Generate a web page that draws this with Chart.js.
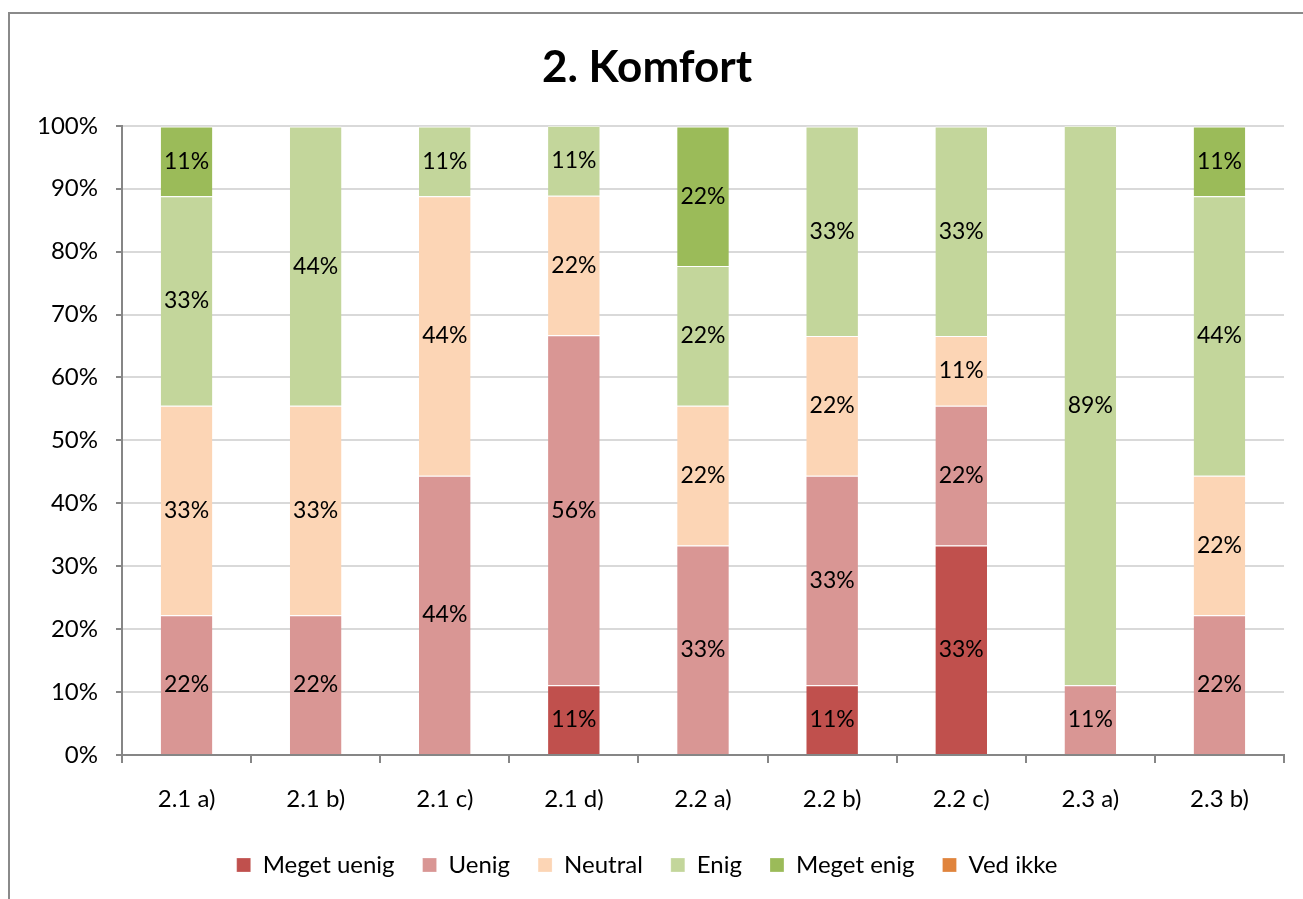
<!DOCTYPE html>
<html>
<head>
<meta charset="utf-8">
<script src="https://cdn.jsdelivr.net/npm/chart.js@4/dist/chart.umd.min.js"></script>
<style>
  html, body { margin: 0; padding: 0; background: #fff; overflow: hidden; }
  #frame { position: absolute; left: 8px; top: 12px; width: 1400px; height: 1000px;
           border: 2px solid #8a8a8a; box-sizing: border-box; }
  #wrap { position: absolute; left: 10px; top: 14px; width: 1306px; height: 885px; }
</style>
</head>
<body>
<div id="frame"></div>
<div id="wrap"><canvas id="chart"></canvas></div>
<script>
const categories = ["2.1 a)", "2.1 b)", "2.1 c)", "2.1 d)", "2.2 a)", "2.2 b)", "2.2 c)", "2.3 a)", "2.3 b)"];
const seriesNames = ["Meget uenig", "Uenig", "Neutral", "Enig", "Meget enig", "Ved ikke"];
const seriesColors = ["#c0504d", "#d99694", "#fcd5b5", "#c3d69b", "#9bbb59", "#e0843d"];

// percentages per category
const megetUenig = [0, 0, 0, 11.1, 0, 11.1, 33.3, 0, 0];
const uenig      = [22.2, 22.2, 44.4, 55.6, 33.3, 33.3, 22.2, 11.1, 22.2];
const neutral    = [33.3, 33.3, 44.4, 22.2, 22.2, 22.2, 11.1, 0, 22.2];
const enig       = [33.3, 44.4, 11.1, 11.1, 22.2, 33.3, 33.3, 88.9, 44.4];
const megetEnig  = [11.1, 0, 0, 0, 22.2, 0, 0, 0, 11.1];
const vedIkke    = [0, 0, 0, 0, 0, 0, 0, 0, 0];

const yTicks = [0, 10, 20, 30, 40, 50, 60, 70, 80, 90, 100];

const FONT = "Lato, 'Open Sans', sans-serif";

const barLabels = {
  id: "barLabels",
  afterDatasetsDraw(chart) {
    const ctx = chart.ctx;
    ctx.save();
    ctx.font = "23px " + FONT;
    ctx.fillStyle = "#000";
    ctx.textAlign = "center";
    ctx.textBaseline = "middle";
    chart.data.datasets.forEach((ds, i) => {
      const meta = chart.getDatasetMeta(i);
      meta.data.forEach((bar, j) => {
        const v = ds.data[j];
        if (!v) return;
        ctx.fillText(Math.round(v) + "%", bar.x, (bar.y + bar.base) / 2);
      });
    });
    ctx.restore();
  }
};

const allSeries = [megetUenig, uenig, neutral, enig, megetEnig, vedIkke];

new Chart(document.getElementById("chart"), {
  type: "bar",
  data: {
    labels: categories,
    datasets: allSeries.map((d, i) => ({
      label: seriesNames[i],
      data: d,
      backgroundColor: seriesColors[i],
      borderColor: "#fff",
      borderWidth: { top: 1, bottom: 0, left: 0, right: 0 },
      borderSkipped: false,
      barPercentage: 0.4,
      categoryPercentage: 1
    }))
  },
  options: {
    responsive: true,
    maintainAspectRatio: false,
    animation: false,
    layout: { padding: { left: 0, right: 32, top: 0, bottom: 12 } },
    plugins: {
      title: {
        display: true,
        text: "2. Komfort",
        color: "#000",
        font: { family: FONT, size: 44, weight: "bold" },
        padding: { top: 27, bottom: 32 }
      },
      legend: {
        position: "bottom",
        labels: {
          color: "#000",
          font: { family: FONT, size: 24 },
          boxWidth: 14,
          boxHeight: 14,
          padding: 28
        }
      },
      tooltip: { enabled: false }
    },
    scales: {
      x: {
        stacked: true,
        grid: { offset: true, drawOnChartArea: false, drawTicks: true, tickLength: 8, tickColor: "#868686", lineWidth: 2 },
        border: { color: "#868686", width: 2 },
        ticks: { color: "#000", font: { family: FONT, size: 24 }, padding: 22 },
        afterFit: (axis) => { axis.height = 70; }
      },
      y: {
        stacked: true,
        min: 0,
        max: 100,
        afterBuildTicks: (axis) => { axis.ticks = yTicks.map(v => ({ value: v })); },
        afterFit: (axis) => { axis.width = 112; },
        grid: { color: "#d9d9d9", lineWidth: 2, tickLength: 6, tickColor: "#868686" },
        border: { color: "#868686", width: 2 },
        ticks: { color: "#000", font: { family: FONT, size: 24 }, padding: 18, callback: (v) => v + "%" }
      }
    }
  },
  plugins: [barLabels]
});
</script>
</body>
</html>
